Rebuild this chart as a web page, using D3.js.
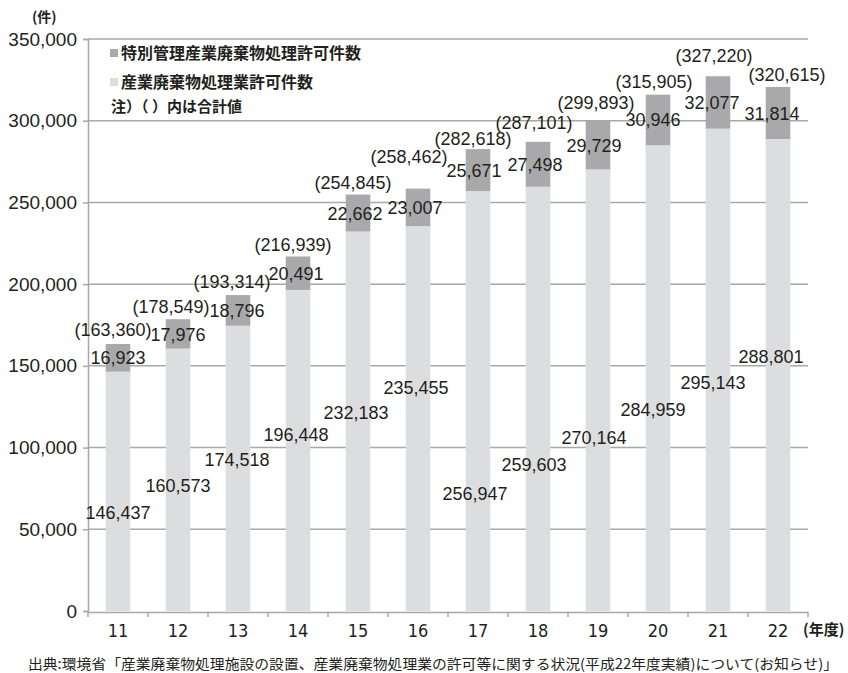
<!DOCTYPE html>
<html>
<head>
<meta charset="utf-8">
<script src="https://cdn.jsdelivr.net/npm/d3@7"></script>
<style>
  body { margin: 0; background: #fff; }
  svg text { font-family: "Liberation Sans", Arial, sans-serif; }
  .jp { font-family: "Noto Sans CJK JP", sans-serif; }
  .narrow { font-family: "Liberation Sans Narrow", "DejaVu Sans Condensed", sans-serif; }
</style>
</head>
<body>
<div id="chart"></div>
<script>
// data
const years = ['11', '12', '13', '14', '15', '16', '17', '18', '19', '20', '21', '22'];
const industrial = [146437, 160573, 174518, 196448, 232183, 235455, 256947, 259603, 270164, 284959, 295143, 288801];
const special = [16923, 17976, 18796, 20491, 22662, 23007, 25671, 27498, 29729, 30946, 32077, 31814];
const totals = [163360, 178549, 193314, 216939, 254845, 258462, 282618, 287101, 299893, 315905, 327220, 320615];
const yTicks = [0, 50000, 100000, 150000, 200000, 250000, 300000, 350000];

// label placement (in value units, as placed by hand in the original)
const industrialLabelAt = [60000, 76500, 92400, 107700, 121200, 136500, 71600, 89300, 105900, 123000, 139500, 155400];
const specialLabelAt = [154800, 168900, 183600, 206200, 242900, 246600, 269200, 272900, 284500, 300400, 310800, 304100];
const totalLabelAt = [171900, 186000, 201300, 224000, 261900, 277800, 288800, 298600, 310800, 323700, 339600, 328000];
const industrialDx = [0, 0, -1, -2, -2, -2, -3, -4, -4, -5, -5, -7];
const specialDx = [0, 0, -1, -2, -3, -3, -4, -3, -4, -5, -6, -6];
const totalDx = [-5, -7, -6, -5, -5, -9, -5, -4, -2, -4, -4, 9];

const W = 848, H = 673;
const m = { left: 88, right: 40, top: 39, bottom: 62 };
const darkC = '#a9a9ab', lightC = '#dcdddf', gridC = '#a8a8a8', textC = '#231f20';

const svg = d3.select('#chart').append('svg')
  .attr('width', W).attr('height', H);

const x = d3.scaleBand().domain(years)
  .range([m.left, W - m.right])
  .paddingInner(0.59).paddingOuter(0.295);
const y = d3.scaleLinear().domain([0, 350000])
  .range([H - m.bottom, m.top]);

const fmt = d3.format(',');

// gridlines
svg.append('g')
  .selectAll('line')
  .data(yTicks.filter(d => d > 0))
  .enter().append('line')
    .attr('x1', m.left).attr('x2', W - m.right)
    .attr('y1', d => y(d)).attr('y2', d => y(d))
    .attr('stroke', gridC).attr('stroke-width', 1.5);

// bars
const rows = years.map((yr, i) => ({ yr, a: industrial[i], b: special[i], i }));
const g = svg.append('g');
g.selectAll('.light').data(rows).enter().append('rect')
  .attr('x', d => x(d.yr)).attr('width', x.bandwidth())
  .attr('y', d => y(d.a)).attr('height', d => y(0) - y(d.a))
  .attr('fill', lightC);
g.selectAll('.dark').data(rows).enter().append('rect')
  .attr('x', d => x(d.yr)).attr('width', x.bandwidth())
  .attr('y', d => y(d.a + d.b)).attr('height', d => y(d.a) - y(d.a + d.b))
  .attr('fill', darkC);

// y axis
const yAxis = svg.append('g')
  .attr('transform', `translate(${m.left},0)`)
  .call(d3.axisLeft(y).tickValues(yTicks).tickFormat(fmt).tickSize(5).tickPadding(6));
yAxis.select('.domain').attr('stroke', gridC).attr('stroke-width', 1.5);
yAxis.selectAll('.tick line').attr('stroke', gridC).attr('stroke-width', 1.5);
yAxis.selectAll('.tick text').attr('font-size', 19).attr('fill', textC)
  .style('font-family', '"Liberation Sans", Arial, sans-serif');

// x axis
const xAxis = svg.append('g')
  .attr('transform', `translate(0,${y(0) + 1})`)
  .call(d3.axisBottom(x).tickSize(0).tickPadding(12));
xAxis.select('.domain').attr('stroke', gridC).attr('stroke-width', 1.5);
xAxis.selectAll('.tick text').attr('font-size', 18).attr('fill', textC)
  .attr('class', 'narrow');
// boundary ticks between categories
xAxis.append('g').selectAll('line')
  .data(years.concat(['end']))
  .enter().append('line')
    .attr('x1', (d, i) => m.left + i * x.step())
    .attr('x2', (d, i) => m.left + i * x.step())
    .attr('y1', 0).attr('y2', 5)
    .attr('stroke', gridC).attr('stroke-width', 1.5);

svg.append('text').attr('class', 'jp')
  .attr('x', 803).attr('y', 635)
  .attr('font-size', 15).attr('font-weight', 'bold').attr('fill', textC)
  .text('(年度)');

svg.append('text').attr('class', 'jp')
  .attr('x', 32).attr('y', 22)
  .attr('font-size', 14).attr('font-weight', 'bold').attr('fill', textC)
  .text('(件)');

// value labels
const lab = svg.append('g').attr('font-size', 18).attr('fill', textC).attr('text-anchor', 'middle');
lab.selectAll('.il').data(rows).enter().append('text')
  .attr('x', d => x(d.yr) + x.bandwidth() / 2 + industrialDx[d.i])
  .attr('y', d => y(industrialLabelAt[d.i]))
  .attr('dy', '0.35em')
  .text(d => fmt(d.a));
lab.selectAll('.sl').data(rows).enter().append('text')
  .attr('x', d => x(d.yr) + x.bandwidth() / 2 + specialDx[d.i])
  .attr('y', d => y(specialLabelAt[d.i]))
  .attr('dy', '0.35em')
  .text(d => fmt(d.b));
lab.selectAll('.tl').data(rows).enter().append('text')
  .attr('x', d => x(d.yr) + x.bandwidth() / 2 + totalDx[d.i])
  .attr('y', d => y(totalLabelAt[d.i]))
  .attr('dy', '0.35em')
  .text(d => '(' + fmt(totals[d.i]) + ')');

// legend
const legend = [
  { name: '特別管理産業廃棄物処理許可件数', color: darkC },
  { name: '産業廃棄物処理業許可件数', color: lightC }
];
const lg = svg.append('g').attr('transform', 'translate(110,53)');
legend.forEach((d, i) => {
  lg.append('rect').attr('x', 0).attr('y', i * 29 - 4).attr('width', 8).attr('height', 8).attr('fill', d.color);
  lg.append('text').attr('class', 'jp')
    .attr('x', 11).attr('y', i * 29).attr('dy', '0.36em')
    .attr('font-size', 16).attr('font-weight', 'bold').attr('fill', textC)
    .text(d.name);
});
lg.append('text').attr('class', 'jp')
  .attr('x', 1).attr('y', 54).attr('dy', '0.36em')
  .attr('font-size', 15).attr('font-weight', 'bold').attr('fill', textC)
  .text('注）（ ）内は合計値');

// source
svg.append('text').attr('class', 'jp')
  .attr('x', 28).attr('y', 669)
  .attr('font-size', 14).attr('fill', textC)
  .attr('textLength', 810).attr('lengthAdjust', 'spacingAndGlyphs')
  .text('出典:環境省「産業廃棄物処理施設の設置、産業廃棄物処理業の許可等に関する状況(平成22年度実績)について(お知らせ)」');
</script>
</body>
</html>
